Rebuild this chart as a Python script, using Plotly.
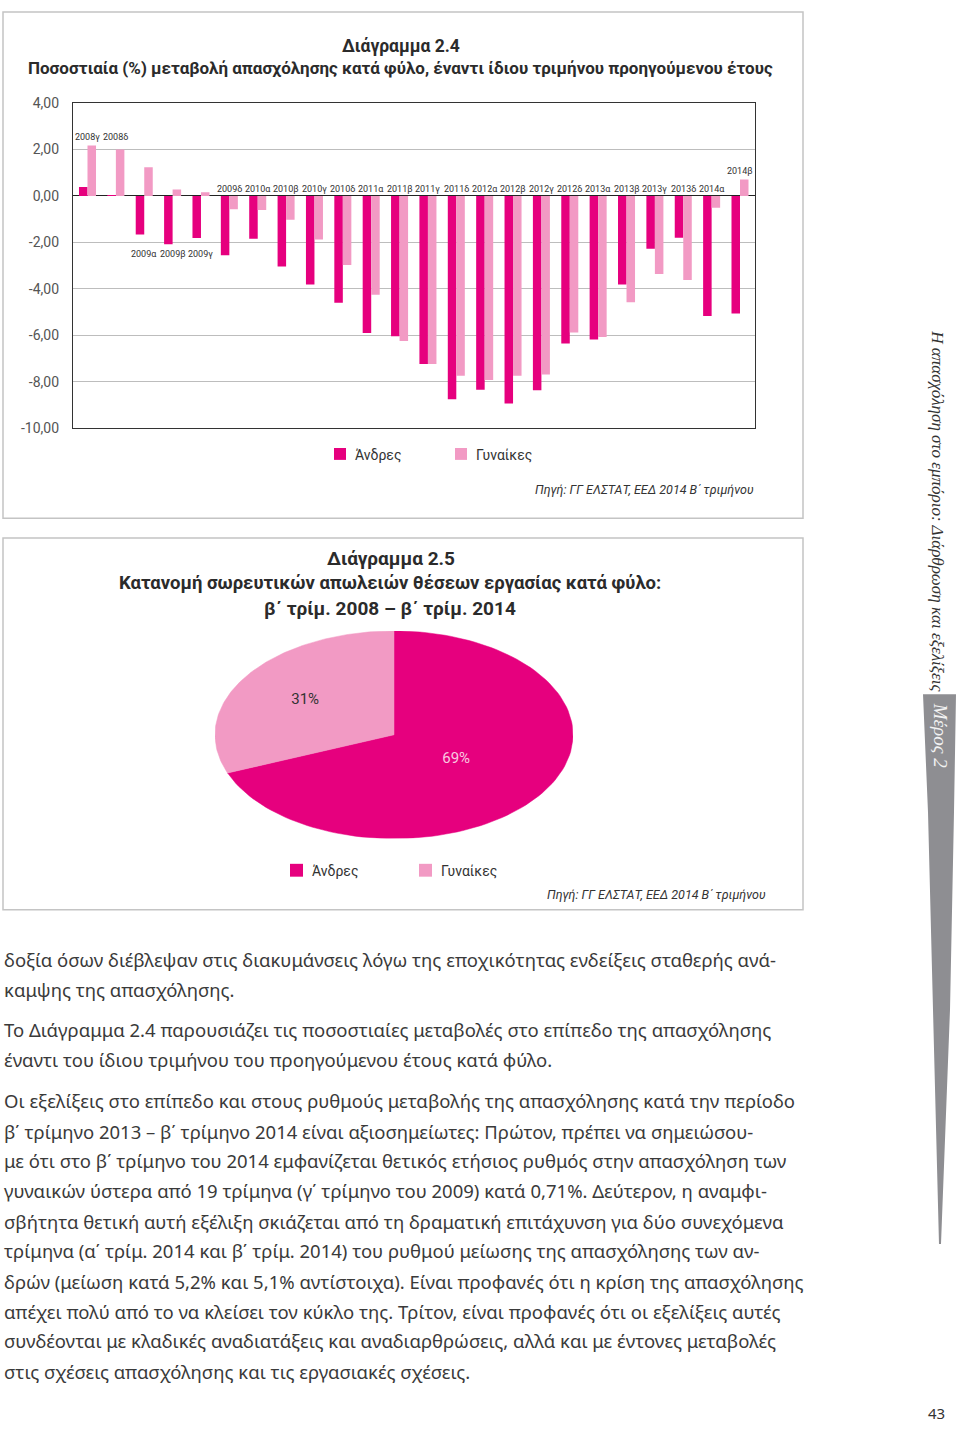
import math
import plotly.graph_objects as go

# ---------------- data ----------------
categories = ["2008γ", "2008δ", "2009α", "2009β", "2009γ", "2009δ",
              "2010α", "2010β", "2010γ", "2010δ", "2011α", "2011β",
              "2011γ", "2011δ", "2012α", "2012β", "2012γ", "2012δ",
              "2013α", "2013β", "2013γ", "2013δ", "2014α", "2014β"]
men = [0.38, 0.03, -1.66, -2.08, -1.81, -2.56, -1.85, -3.04, -3.81, -4.60,
       -5.90, -6.04, -7.23, -8.75, -8.34, -8.93, -8.37, -6.35, -6.18, -3.81,
       -2.28, -1.80, -5.17, -5.06]
women = [2.17, 2.00, 1.23, 0.27, 0.16, -0.58, -0.61, -1.03, -1.88, -2.97,
         -4.25, -6.25, -7.23, -7.74, -7.92, -7.74, -7.69, -5.88, -6.07, -4.58,
         -3.36, -3.62, -0.51, 0.71]
series_names = ["Άνδρες", "Γυναίκες"]
y_tickvals = [4, 2, 0, -2, -4, -6, -8, -10]
y_ticktext = ["4,00", "2,00", "0,00", "-2,00", "-4,00", "-6,00", "-8,00", "-10,00"]

pie_labels = ["Άνδρες", "Γυναίκες"]
pie_values = [69, 31]

title1 = "Διάγραμμα 2.4"
subtitle1 = "Ποσοστιαία (%) μεταβολή απασχόλησης κατά φύλο, έναντι ίδιου τριμήνου προηγούμενου έτους"
title2 = "Διάγραμμα 2.5"
subtitle2 = ["Κατανομή σωρευτικών απωλειών θέσεων εργασίας κατά φύλο:",
             "β΄ τρίμ. 2008 – β΄ τρίμ. 2014"]
source = "Πηγή: ΓΓ ΕΛΣΤΑΤ, ΕΕΔ 2014 Β΄ τριμήνου"

body_lines = [
    "δοξία όσων διέβλεψαν στις διακυμάνσεις λόγω της εποχικότητας ενδείξεις σταθερής ανά-",
    "καμψης της απασχόλησης.",
    "Το Διάγραμμα 2.4 παρουσιάζει τις ποσοστιαίες μεταβολές στο επίπεδο της απασχόλησης",
    "έναντι του ίδιου τριμήνου του προηγούμενου έτους κατά φύλο.",
    "Οι εξελίξεις στο επίπεδο και στους ρυθμούς μεταβολής της απασχόλησης κατά την περίοδο",
    "β΄ τρίμηνο 2013 – β΄ τρίμηνο 2014 είναι αξιοσημείωτες: Πρώτον, πρέπει να σημειώσου-",
    "με ότι στο β΄ τρίμηνο του 2014 εμφανίζεται θετικός ετήσιος ρυθμός στην απασχόληση των",
    "γυναικών ύστερα από 19 τρίμηνα (γ΄ τρίμηνο του 2009) κατά 0,71%. Δεύτερον, η αναμφι-",
    "σβήτητα θετική αυτή εξέλιξη σκιάζεται από τη δραματική επιτάχυνση για δύο συνεχόμενα",
    "τρίμηνα (α΄ τρίμ. 2014 και β΄ τρίμ. 2014) του ρυθμού μείωσης της απασχόλησης των αν-",
    "δρών (μείωση κατά 5,2% και 5,1% αντίστοιχα). Είναι προφανές ότι η κρίση της απασχόλησης",
    "απέχει πολύ από το να κλείσει τον κύκλο της. Τρίτον, είναι προφανές ότι οι εξελίξεις αυτές",
    "συνδέονται με κλαδικές αναδιατάξεις και αναδιαρθρώσεις, αλλά και με έντονες μεταβολές",
    "στις σχέσεις απασχόλησης και τις εργασιακές σχέσεις.",
]
side_title = "Η απασχόληση στο εμπόριο: Διάρθρωση και εξελίξεις"
side_tab = "Μέρος 2"
page_number = "43"

# ---------------- style ----------------
W, H = 960, 1431
C_MEN = "#E6007E"
C_WOMEN = "#F29AC4"
TXT = "#2b2b2b"
FONT = "Roboto"


def px(x):
    return x / W


def py(y):
    return 1 - y / H


fig = go.Figure()

# bar chart
for name, vals, col in [(series_names[0], men, C_MEN), (series_names[1], women, C_WOMEN)]:
    fig.add_trace(go.Bar(x=categories, y=vals, name=name, marker_color=col,
                         marker_line_width=0, showlegend=False,
                         xaxis="x", yaxis="y"))

annotations = []
shapes = []

# category labels above/below the bars
for i, cat in enumerate(categories):
    if i < 2:
        ly = 2.55
    elif i < 5:
        ly = -2.5
    elif i == len(categories) - 1:
        ly = max(men[i], women[i]) + 0.35
    else:
        ly = 0.3
    annotations.append(dict(x=cat, y=ly, xref="x", yref="y", text=cat, showarrow=False,
                            font=dict(family=FONT, size=9, color="#333"),
                            xanchor="center", yanchor="middle"))

# pie drawn as elliptical wedges (computed from the values)
total = sum(pie_values)
start = 90.0
pie_colors = [C_MEN, C_WOMEN]
text_colors = ["#F9C9E0", "#333333"]
text_r = [0.42, 0.6]
for lab, val, col, tc, tr in zip(pie_labels, pie_values, pie_colors, text_colors, text_r):
    sweep = val / total * 360.0
    n = 120
    xs, ys = [0.0], [0.0]
    for k in range(n + 1):
        a = math.radians(start - sweep * k / n)
        xs.append(math.cos(a))
        ys.append(math.sin(a))
    xs.append(0.0)
    ys.append(0.0)
    fig.add_trace(go.Scatter(x=xs, y=ys, fill="toself", fillcolor=col, mode="lines",
                             line=dict(color=col, width=0.5), showlegend=False,
                             hoverinfo="skip", xaxis="x2", yaxis="y2"))
    mid = math.radians(start - sweep / 2)
    fig.add_trace(go.Scatter(x=[tr * math.cos(mid)], y=[tr * math.sin(mid)], mode="text",
                             text=[f"{val}%"], textfont=dict(family=FONT, size=15, color=tc),
                             showlegend=False, hoverinfo="skip", xaxis="x2", yaxis="y2"))
    start -= sweep

# boxes
for (x0, y0, x1, y1) in [(3, 4, 803, 516), (3, 536, 803, 912)]:
    shapes.append(dict(type="rect", xref="paper", yref="paper",
                       x0=px(x0), x1=px(x1), y0=py(y1), y1=py(y0),
                       line=dict(color="#c4c4c4", width=1.5)))

# titles
annotations += [
    dict(x=px(401), y=py(38), text=f"<b>{title1}</b>", font=dict(family=FONT, size=17.5, color=TXT)),
    dict(x=px(400), y=py(61), text=f"<b>{subtitle1}</b>", font=dict(family=FONT, size=17, color=TXT)),
    dict(x=px(391), y=py(557), text=f"<b>{title2}</b>", font=dict(family=FONT, size=19, color=TXT)),
    dict(x=px(390), y=py(582), text=f"<b>{subtitle2[0]}</b>", font=dict(family=FONT, size=18.5, color=TXT)),
    dict(x=px(390), y=py(607), text=f"<b>{subtitle2[1]}</b>", font=dict(family=FONT, size=19, color=TXT)),
]
for a in annotations[-5:]:
    a.update(xref="paper", yref="paper", showarrow=False, xanchor="center", yanchor="middle")

# legends and sources


def legend(x_sq1, x_sq2, yc, size):
    for xs_, col, name in [(x_sq1, C_MEN, series_names[0]), (x_sq2, C_WOMEN, series_names[1])]:
        shapes.append(dict(type="rect", xref="paper", yref="paper",
                           x0=px(xs_), x1=px(xs_ + size), y0=py(yc + size / 2), y1=py(yc - size / 2),
                           fillcolor=col, line=dict(width=0)))
        annotations.append(dict(x=px(xs_ + size + 7), y=py(yc + 1), xref="paper", yref="paper",
                                text=name, showarrow=False, xanchor="left", yanchor="middle",
                                font=dict(family=FONT, size=14, color="#333")))


legend(334, 455, 451, 12)
legend(290, 419, 872, 13)

for xr, yc in [(756, 487), (768, 897)]:
    annotations.append(dict(x=px(xr), y=py(yc), xref="paper", yref="paper",
                            text=f"<i>{source}</i>", showarrow=False, xanchor="right", yanchor="middle",
                            font=dict(family=FONT, size=12.5, color="#333")))

# body text
body_y = [962, 993, 1033, 1063, 1105, 1136, 1166, 1196, 1227, 1257, 1288, 1318, 1348, 1379]
for line, yy in zip(body_lines, body_y):
    annotations.append(dict(x=px(2), y=py(yy), xref="paper", yref="paper", text=line,
                            showarrow=False, xanchor="left", yanchor="middle",
                            font=dict(family="Noto Sans", size=18.5, color="#3a3a3a")))

# side bar
shapes.append(dict(type="path", xref="paper", yref="paper",
                   path=" ".join([
                       f"M {px(923)},{py(694)}",
                       f"L {px(956)},{py(694)}",
                       f"L {px(954)},{py(813)}",
                       f"L {px(950)},{py(1013)}",
                       f"L {px(941)},{py(1250)}",
                       f"L {px(939)},{py(1250)}",
                       f"L {px(933)},{py(1013)}",
                       f"L {px(928)},{py(813)}",
                       "Z"]),
                   fillcolor="#8E8E92", line=dict(width=0)))
annotations.append(dict(x=px(938), y=py(508), xref="paper", yref="paper",
                        text=f"<i>{side_title}</i>", textangle=90, showarrow=False,
                        xanchor="center", yanchor="middle",
                        font=dict(family="Liberation Serif", size=17, color="#333")))
annotations.append(dict(x=px(940), y=py(735), xref="paper", yref="paper",
                        text=f"<i>{side_tab}</i>", textangle=90, showarrow=False,
                        xanchor="center", yanchor="middle",
                        font=dict(family="Liberation Serif", size=19, color="#f2f2f2")))
annotations.append(dict(x=px(936), y=py(1421), xref="paper", yref="paper",
                        text=page_number, showarrow=False, xanchor="center", yanchor="middle",
                        font=dict(family="Noto Sans", size=15, color="#333")))

fig.update_layout(
    width=W, height=H, margin=dict(l=0, r=0, t=0, b=0),
    paper_bgcolor="white", plot_bgcolor="white",
    barmode="group", bargap=0.40, bargroupgap=0.0,
    xaxis=dict(domain=[px(73), px(755)], type="category", showticklabels=False,
               showline=True, mirror=True, linecolor="#333", linewidth=1.2,
               showgrid=False, ticks="", fixedrange=True, anchor="y"),
    yaxis=dict(domain=[py(425), py(96)], range=[-10, 4], tickvals=y_tickvals, ticktext=y_ticktext,
               showline=True, mirror=True, linecolor="#333", linewidth=1.2,
               gridcolor="#bdbdbd", gridwidth=1, zeroline=True, zerolinecolor="#222",
               zerolinewidth=1.2, ticks="", ticklabelstandoff=10,
               tickfont=dict(family=FONT, size=14, color="#555"), anchor="x"),
    xaxis2=dict(domain=[px(215), px(573)], range=[-1, 1], visible=False, anchor="y2"),
    yaxis2=dict(domain=[py(840), py(630)], range=[-1, 1], visible=False, anchor="x2"),
    shapes=shapes, annotations=annotations,
)

fig.write_html("out.html", config={"displayModeBar": False},
               post_script="document.body.style.margin='0';document.body.style.overflow='hidden';")
